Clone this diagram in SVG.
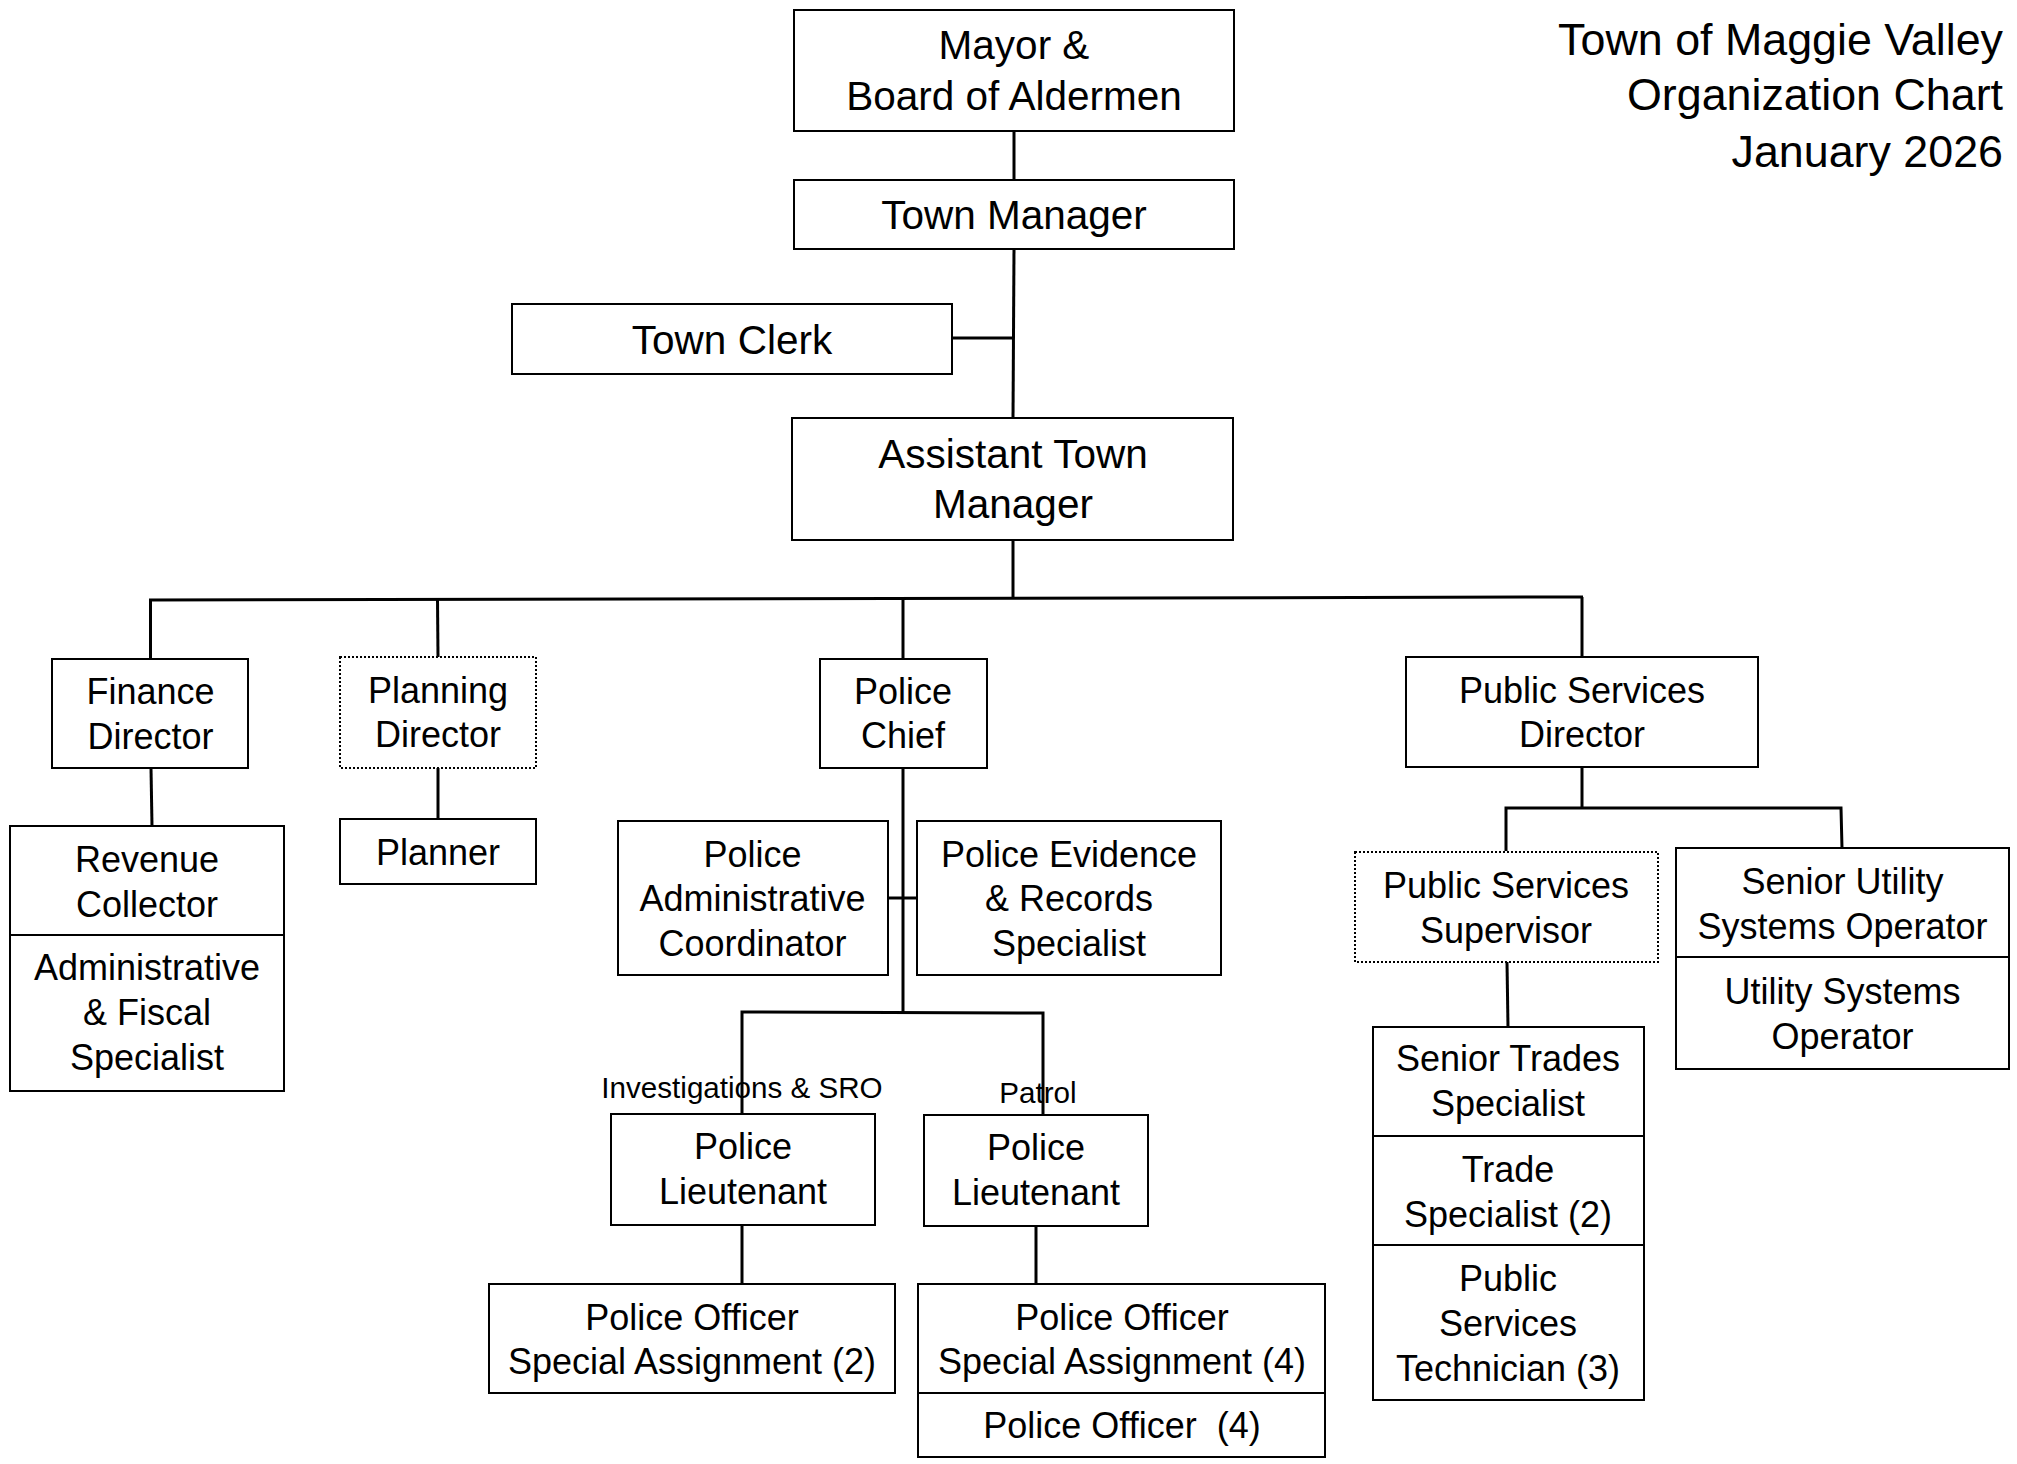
<svg xmlns="http://www.w3.org/2000/svg" width="2017" height="1464" viewBox="0 0 2017 1464">
<style>
.box{fill:#fff;stroke:#000;stroke-width:2}
.dot{fill:#fff;stroke:#000;stroke-width:2;stroke-dasharray:2 2}
.t{font-family:"Liberation Sans",Arial,sans-serif;font-size:36px;fill:#000;text-anchor:middle}
.big{font-size:40.5px}
.lbl{font-family:"Liberation Sans",Arial,sans-serif;font-size:29.6px;fill:#000;text-anchor:middle}
.title{font-family:"Liberation Sans",Arial,sans-serif;font-size:44.8px;fill:#000;text-anchor:end}
.c{stroke:#000;stroke-width:3;fill:none}
</style>
<rect width="2017" height="1464" fill="#fff"/>
<g id="title">
<text class="title" x="2003" y="55">Town of Maggie Valley</text>
<text class="title" x="2003" y="110">Organization Chart</text>
<text class="title" x="2003" y="167">January 2026</text>
</g>
<g id="connectors">
<line class="c" x1="1014" y1="131" x2="1014" y2="180"/>
<line class="c" x1="1014" y1="249" x2="1013" y2="418"/>
<line class="c" x1="952" y1="338" x2="1014" y2="338"/>
<line class="c" x1="1013" y1="540" x2="1013" y2="599"/>
<line class="c" x1="149" y1="600" x2="1583" y2="597"/>
<line class="c" x1="150.5" y1="600" x2="150.5" y2="659"/>
<line class="c" x1="437.5" y1="599" x2="438" y2="657"/>
<line class="c" x1="903" y1="598" x2="903" y2="659"/>
<line class="c" x1="1582" y1="597" x2="1582" y2="657"/>
<line class="c" x1="151" y1="768" x2="152" y2="826"/>
<line class="c" x1="438" y1="768" x2="438" y2="819"/>
<line class="c" x1="903" y1="768" x2="903" y2="1012"/>
<line class="c" x1="887" y1="898" x2="917" y2="898"/>
<polyline class="c" points="742,1114 742,1012 1043,1013 1043,1115"/>
<line class="c" x1="742" y1="1225" x2="742" y2="1284"/>
<line class="c" x1="1036" y1="1226" x2="1036" y2="1284"/>
<line class="c" x1="1582" y1="767" x2="1582" y2="808"/>
<polyline class="c" points="1506,851 1506,808 1841,808 1842,848"/>
<line class="c" x1="1507" y1="962" x2="1508" y2="1027"/>
</g>
<g id="mayor">
<rect class="box" x="794" y="10" width="440" height="121"/>
<text class="t big" x="1014" y="59">Mayor &amp;</text>
<text class="t big" x="1014" y="110">Board of Aldermen</text>
</g>
<g id="town-manager">
<rect class="box" x="794" y="180" width="440" height="69"/>
<text class="t big" x="1014" y="229">Town Manager</text>
</g>
<g id="town-clerk">
<rect class="box" x="512" y="304" width="440" height="70"/>
<text class="t big" x="732" y="354">Town Clerk</text>
</g>
<g id="assistant-town-manager">
<rect class="box" x="792" y="418" width="441" height="122"/>
<text class="t big" x="1013" y="468">Assistant Town</text>
<text class="t big" x="1013" y="518">Manager</text>
</g>
<g id="finance-director">
<rect class="box" x="52" y="659" width="196" height="109"/>
<text class="t" x="150.5" y="704">Finance</text>
<text class="t" x="150.5" y="749">Director</text>
</g>
<g id="planning-director">
<rect class="dot" x="340" y="657" width="196" height="111"/>
<text class="t" x="438" y="703">Planning</text>
<text class="t" x="438" y="747">Director</text>
</g>
<g id="police-chief">
<rect class="box" x="820" y="659" width="167" height="109"/>
<text class="t" x="903" y="704">Police</text>
<text class="t" x="903" y="748">Chief</text>
</g>
<g id="public-services-director">
<rect class="box" x="1406" y="657" width="352" height="110"/>
<text class="t" x="1582" y="703">Public Services</text>
<text class="t" x="1582" y="747">Director</text>
</g>
<g id="revenue-collector">
<rect class="box" x="10" y="826" width="274" height="109"/>
<text class="t" x="147" y="872">Revenue</text>
<text class="t" x="147" y="917">Collector</text>
</g>
<g id="admin-fiscal-specialist">
<rect class="box" x="10" y="935" width="274" height="156"/>
<text class="t" x="147" y="980">Administrative</text>
<text class="t" x="147" y="1025">&amp; Fiscal</text>
<text class="t" x="147" y="1070">Specialist</text>
</g>
<g id="planner">
<rect class="box" x="340" y="819" width="196" height="65"/>
<text class="t" x="438" y="865">Planner</text>
</g>
<g id="police-admin-coordinator">
<rect class="box" x="618" y="821" width="270" height="154"/>
<text class="t" x="752.5" y="867">Police</text>
<text class="t" x="752.5" y="911">Administrative</text>
<text class="t" x="752.5" y="956">Coordinator</text>
</g>
<g id="police-evidence-records">
<rect class="box" x="917" y="821" width="304" height="154"/>
<text class="t" x="1069" y="867">Police Evidence</text>
<text class="t" x="1069" y="911">&amp; Records</text>
<text class="t" x="1069" y="956">Specialist</text>
</g>
<g id="label-investigations">
<text class="lbl" x="742" y="1098">Investigations &amp; SRO</text>
</g>
<g id="label-patrol">
<text class="lbl" x="1038" y="1103">Patrol</text>
</g>
<g id="lieutenant-investigations">
<rect class="box" x="611" y="1114" width="264" height="111"/>
<text class="t" x="743" y="1159">Police</text>
<text class="t" x="743" y="1204">Lieutenant</text>
</g>
<g id="lieutenant-patrol">
<rect class="box" x="924" y="1115" width="224" height="111"/>
<text class="t" x="1036" y="1160">Police</text>
<text class="t" x="1036" y="1205">Lieutenant</text>
</g>
<g id="officer-sa-2">
<rect class="box" x="489" y="1284" width="406" height="109"/>
<text class="t" x="692" y="1330">Police Officer</text>
<text class="t" x="692" y="1374">Special Assignment (2)</text>
</g>
<g id="officer-sa-4">
<rect class="box" x="918" y="1284" width="407" height="109"/>
<text class="t" x="1122" y="1330">Police Officer</text>
<text class="t" x="1122" y="1374">Special Assignment (4)</text>
</g>
<g id="police-officer-4">
<rect class="box" x="918" y="1393" width="407" height="64"/>
<text class="t" x="1122" y="1438" style="white-space:pre">Police Officer  (4)</text>
</g>
<g id="public-services-supervisor">
<rect class="dot" x="1355" y="852" width="303" height="110"/>
<text class="t" x="1506" y="898">Public Services</text>
<text class="t" x="1506" y="943">Supervisor</text>
</g>
<g id="senior-utility-operator">
<rect class="box" x="1676" y="848" width="333" height="109"/>
<text class="t" x="1842.5" y="894">Senior Utility</text>
<text class="t" x="1842.5" y="939">Systems Operator</text>
</g>
<g id="utility-systems-operator">
<rect class="box" x="1676" y="957" width="333" height="112"/>
<text class="t" x="1842.5" y="1004">Utility Systems</text>
<text class="t" x="1842.5" y="1049">Operator</text>
</g>
<g id="senior-trades-specialist">
<rect class="box" x="1373" y="1027" width="271" height="109"/>
<text class="t" x="1508" y="1071">Senior Trades</text>
<text class="t" x="1508" y="1116">Specialist</text>
</g>
<g id="trade-specialist">
<rect class="box" x="1373" y="1136" width="271" height="109"/>
<text class="t" x="1508" y="1182">Trade</text>
<text class="t" x="1508" y="1227">Specialist (2)</text>
</g>
<g id="public-services-technician">
<rect class="box" x="1373" y="1245" width="271" height="155"/>
<text class="t" x="1508" y="1291">Public</text>
<text class="t" x="1508" y="1336">Services</text>
<text class="t" x="1508" y="1381">Technician (3)</text>
</g>
</svg>
